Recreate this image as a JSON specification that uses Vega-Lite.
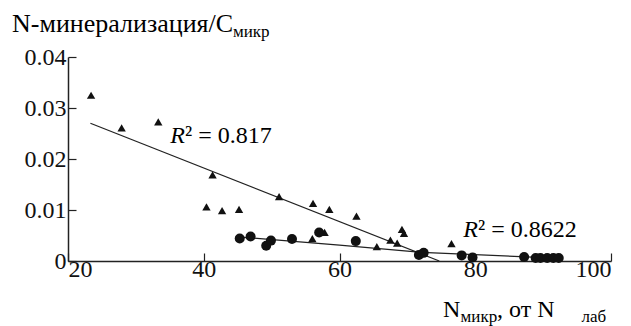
{
  "$schema": "https://vega.github.io/schema/vega-lite/v6.json",
  "autosize": {"type": "none"},
  "width": 543,
  "height": 204,
  "padding": {"left": 68, "top": 57, "right": 20, "bottom": 65},
  "background": "white",
  "config": {
    "view": {"stroke": null},
    "font": "Liberation Serif",
    "axis": {
      "grid": false,
      "domainColor": "#222",
      "domainWidth": 1.5,
      "tickColor": "#222",
      "tickWidth": 1.2,
      "tickSize": -8,
      "labelFont": "Liberation Serif",
      "labelFontSize": 24,
      "labelColor": "#111",
      "title": null
    }
  },
  "datasets": {
    "points": [
      {"x": 23.4, "y": 0.0325, "group": "triangle"},
      {"x": 27.9, "y": 0.0261, "group": "triangle"},
      {"x": 33.3, "y": 0.0273, "group": "triangle"},
      {"x": 41.3, "y": 0.0169, "group": "triangle"},
      {"x": 40.4, "y": 0.0106, "group": "triangle"},
      {"x": 42.7, "y": 0.0099, "group": "triangle"},
      {"x": 45.2, "y": 0.0101, "group": "triangle"},
      {"x": 51.1, "y": 0.0126, "group": "triangle"},
      {"x": 56.1, "y": 0.0113, "group": "triangle"},
      {"x": 58.5, "y": 0.0101, "group": "triangle"},
      {"x": 62.5, "y": 0.0088, "group": "triangle"},
      {"x": 56.0, "y": 0.0044, "group": "triangle"},
      {"x": 57.8, "y": 0.0056, "group": "triangle"},
      {"x": 65.5, "y": 0.0028, "group": "triangle"},
      {"x": 67.5, "y": 0.0041, "group": "triangle"},
      {"x": 68.5, "y": 0.0035, "group": "triangle"},
      {"x": 69.2, "y": 0.0062, "group": "triangle"},
      {"x": 69.5, "y": 0.0054, "group": "triangle"},
      {"x": 76.5, "y": 0.0034, "group": "triangle"},
      {"x": 45.3, "y": 0.0044, "group": "circle"},
      {"x": 46.9, "y": 0.0048, "group": "circle"},
      {"x": 49.2, "y": 0.0030, "group": "circle"},
      {"x": 49.9, "y": 0.0040, "group": "circle"},
      {"x": 53.0, "y": 0.0043, "group": "circle"},
      {"x": 57.0, "y": 0.0056, "group": "circle"},
      {"x": 62.4, "y": 0.0039, "group": "circle"},
      {"x": 71.7, "y": 0.0012, "group": "circle"},
      {"x": 72.4, "y": 0.0016, "group": "circle"},
      {"x": 78.0, "y": 0.0011, "group": "circle"},
      {"x": 79.6, "y": 0.0007, "group": "circle"},
      {"x": 87.2, "y": 0.0008, "group": "circle"},
      {"x": 88.9, "y": 0.0006, "group": "circle"},
      {"x": 89.6, "y": 0.0006, "group": "circle"},
      {"x": 90.6, "y": 0.0006, "group": "circle"},
      {"x": 91.5, "y": 0.0006, "group": "circle"},
      {"x": 92.3, "y": 0.0006, "group": "circle"}
    ],
    "trends": [
      {"x": 23.3, "y": 0.0270, "line": "triangle"},
      {"x": 74.7, "y": 0.0, "line": "triangle"},
      {"x": 45.3, "y": 0.0047, "line": "circle"},
      {"x": 60.0, "y": 0.0031, "line": "circle"},
      {"x": 72.1, "y": 0.0017, "line": "circle"},
      {"x": 92.9, "y": 0.0005, "line": "circle"}
    ],
    "notes": [
      {"part": "title", "text": "N-минерализация/C", "x": 11.75, "y": 0.0449},
      {"part": "sub", "text": "микр", "x": 44.31, "y": 0.04392},
      {"part": "main", "text": "N", "x": 75.25, "y": -0.01098},
      {"part": "sub", "text": "микр", "x": 77.83, "y": -0.01196},
      {"part": "main", "text": ", от N", "x": 83.2, "y": -0.01098},
      {"part": "sub", "text": "лаб", "x": 95.65, "y": -0.01196},
      {"part": "R", "text": "R", "x": 37.24, "y": 0.02314},
      {"part": "rest", "text": "² = 0.817", "x": 37.24, "y": 0.02314},
      {"part": "R", "text": "R", "x": 80.4, "y": 0.00476},
      {"part": "rest", "text": "² = 0.8622", "x": 80.4, "y": 0.00476}
    ]
  },
  "layer": [
    {
      "data": {"name": "trends"},
      "mark": {"type": "line", "color": "#222", "strokeWidth": 1.2},
      "encoding": {
        "x": {"field": "x", "type": "quantitative", "scale": {"domain": [20, 100]}, "axis": {"values": [20, 40, 60, 80, 100], "labelPadding": 4, "labelFont": "Liberation Serif"}},
        "y": {"field": "y", "type": "quantitative", "scale": {"domain": [0, 0.04]}, "axis": {"values": [0, 0.01, 0.02, 0.03, 0.04], "labelExpr": "datum.value == 0 ? '0' : format(datum.value, '.2f')", "labelPadding": 10, "labelFont": "Liberation Serif"}},
        "detail": {"field": "line"}
      }
    },
    {
      "data": {"name": "points"},
      "transform": [{"filter": "datum.group == 'triangle'"}],
      "mark": {"type": "point", "shape": "triangle-up", "filled": true, "color": "#111", "size": 70, "opacity": 1},
      "encoding": {
        "x": {"field": "x", "type": "quantitative"},
        "y": {"field": "y", "type": "quantitative"}
      }
    },
    {
      "data": {"name": "points"},
      "transform": [{"filter": "datum.group == 'circle'"}],
      "mark": {"type": "point", "shape": "circle", "filled": true, "color": "#111", "size": 100, "opacity": 1},
      "encoding": {
        "x": {"field": "x", "type": "quantitative"},
        "y": {"field": "y", "type": "quantitative"}
      }
    },
    {
      "data": {"name": "notes"},
      "transform": [{"filter": "datum.part == 'title'"}],
      "mark": {"type": "text", "align": "left", "baseline": "alphabetic", "fontSize": 26, "font": "Liberation Serif"},
      "encoding": {
        "x": {"field": "x", "type": "quantitative"},
        "y": {"field": "y", "type": "quantitative"},
        "text": {"field": "text"}
      }
    },
    {
      "data": {"name": "notes"},
      "transform": [{"filter": "datum.part == 'main' || datum.part == 'rest'"}],
      "mark": {"type": "text", "align": "left", "baseline": "alphabetic", "fontSize": 24, "font": "Liberation Serif"},
      "encoding": {
        "x": {"field": "x", "type": "quantitative"},
        "y": {"field": "y", "type": "quantitative"},
        "text": {"field": "text"}
      }
    },
    {
      "data": {"name": "notes"},
      "transform": [{"filter": "datum.part == 'sub'"}],
      "mark": {"type": "text", "align": "left", "baseline": "alphabetic", "fontSize": 17, "font": "Liberation Serif"},
      "encoding": {
        "x": {"field": "x", "type": "quantitative"},
        "y": {"field": "y", "type": "quantitative"},
        "text": {"field": "text"}
      }
    },
    {
      "data": {"name": "notes"},
      "transform": [{"filter": "datum.part == 'R'"}],
      "mark": {"type": "text", "align": "right", "baseline": "alphabetic", "fontSize": 24, "fontStyle": "italic", "font": "Liberation Serif"},
      "encoding": {
        "x": {"field": "x", "type": "quantitative"},
        "y": {"field": "y", "type": "quantitative"},
        "text": {"field": "text"}
      }
    }
  ]
}
